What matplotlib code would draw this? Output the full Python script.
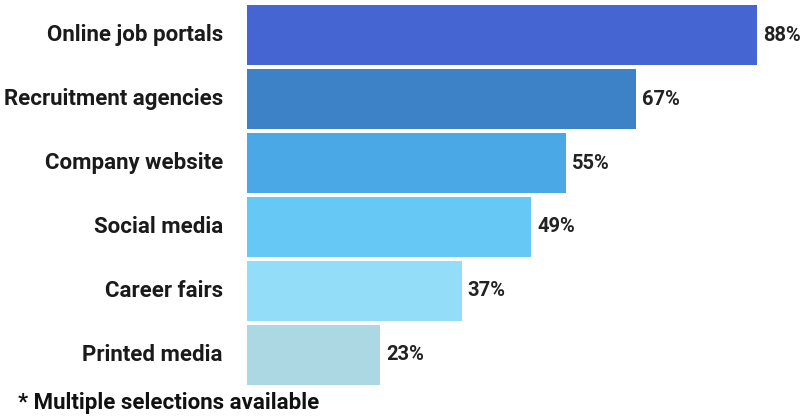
import matplotlib.pyplot as plt

plt.rcParams["font.family"] = ["Roboto", "DejaVu Sans"]

categories = ["Online job portals", "Recruitment agencies", "Company website",
              "Social media", "Career fairs", "Printed media"]
values = [88, 67, 55, 49, 37, 23]
colors = ["#4565d2", "#3d82c6", "#4aa8e6", "#66c9f5", "#93ddf9", "#acd8e3"]

W, H = 801, 417
fig = plt.figure(figsize=(W / 100, H / 100), dpi=100)
ax = fig.add_axes([247 / W, (H - 385) / H, (W - 247) / W, 380 / H])

y = list(range(len(categories)))
ax.barh(y, values, height=0.94, color=colors)
ax.set_ylim(5.47, -0.47)
ax.set_xlim(0, (W - 247) / 5.8)
ax.axis("off")

for yi, v in zip(y, values):
    ax.annotate(f"{v}%", (v, yi), xytext=(4.3, 0), textcoords="offset points",
                ha="left", va="center", fontsize=14.5, fontweight="bold",
                color="#222222")
for yi, c in zip(y, categories):
    ax.annotate(c, (0, yi), xytext=(-17.3, 0), textcoords="offset points",
                ha="right", va="center", fontsize=16, fontweight="bold",
                color="#1a1a1a")

fig.text(18 / W, 1 - 403 / H, "* Multiple selections available", ha="left",
         va="center", fontsize=16, fontweight="bold", color="#111111")

fig.savefig("out.png", dpi=100, facecolor="white")
